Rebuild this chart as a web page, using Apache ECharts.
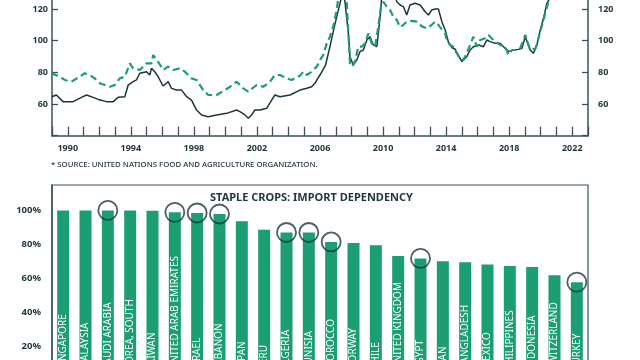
<!DOCTYPE html>
<html><head><meta charset="utf-8">
<script src="https://cdn.jsdelivr.net/npm/echarts@6/dist/echarts.min.js"></script>
<style>html,body{margin:0;padding:0;background:#fff}#c{width:640px;height:360px}</style>
</head><body><div id="c"></div>
<script>
// FAO food price index, nominal (solid) and real (dashed)
const nominalIndex = [
[1988.98,64.6],[1989.28,65.7],[1989.70,61.5],[1990.34,61.5],[1990.87,64.2],[1991.19,65.7],[1991.61,64.2],[1991.93,62.9],
[1992.46,61.5],[1992.88,61.5],[1993.20,64.2],[1993.62,64.6],[1993.83,72.0],[1994.15,74.1],[1994.36,75.2],[1994.57,79.4],
[1995.00,80.4],[1995.20,78.3],[1995.31,82.5],[1995.52,80.4],[1995.73,77.3],[1995.95,73.1],[1996.05,71.4],[1996.37,74.1],
[1996.58,69.9],[1996.90,68.8],[1997.22,68.8],[1997.54,64.6],[1997.85,62.5],[1998.17,56.2],[1998.49,53.1],[1998.91,52.0],
[1999.44,53.1],[2000.08,54.1],[2000.71,56.2],[2000.92,55.2],[2001.24,53.1],[2001.45,51.0],[2001.66,53.1],[2001.87,56.2],
[2002.19,56.2],[2002.62,57.3],[2002.93,62.5],[2003.14,65.7],[2003.46,64.6],[2004.10,65.7],[2004.73,68.8],[2005.16,69.9],
[2005.47,70.9],[2005.68,73.1],[2005.85,76.0],[2006.00,78.3],[2006.35,84.5],[2006.63,96.2],[2006.84,105.7],[2007.06,115.2],
[2007.27,123.6],[2007.45,132.0],[2007.59,124.0],[2007.80,104.6],[2007.90,89.9],[2008.11,84.6],[2008.33,87.8],[2008.54,93.1],
[2008.75,94.1],[2008.97,100.4],[2009.17,102.5],[2009.38,97.3],[2009.60,96.2],[2009.70,104.6],[2009.81,115.2],[2009.91,127.0],
[2010.30,133.0],[2010.70,131.0],[2010.87,124.6],[2011.08,122.5],[2011.29,121.5],[2011.50,116.2],[2011.71,122.5],[2012.03,123.6],
[2012.35,122.5],[2012.67,118.3],[2012.88,116.2],[2013.09,119.4],[2013.30,120.0],[2013.51,120.0],[2013.73,112.0],[2013.94,106.7],
[2014.15,99.0],[2014.36,95.7],[2014.57,94.6],[2014.78,90.5],[2015.00,86.8],[2015.10,85.7],[2015.31,89.9],[2015.52,94.1],
[2015.73,96.2],[2016.05,97.3],[2016.37,96.2],[2016.58,100.4],[2016.79,99.4],[2017.11,98.3],[2017.43,98.3],[2017.64,96.2],
[2017.96,93.1],[2018.27,94.1],[2018.59,94.5],[2018.81,95.2],[2019.02,102.5],[2019.13,103.6],[2019.33,94.1],[2019.54,92.0],
[2019.76,97.3],[2019.97,106.7],[2020.18,114.1],[2020.39,123.6],[2020.60,127.0],[2021.00,132.0],[2021.50,140.0],[2022.00,150.0],
[2022.25,158.0],[2022.50,145.0],[2022.90,133.0]
];
const realIndex = [
[1988.96,79.4],[1989.49,77.3],[1989.81,75.2],[1990.23,74.1],[1990.76,77.3],[1991.08,79.4],[1991.40,78.3],[1991.71,76.2],
[1992.03,73.1],[1992.67,70.9],[1992.98,72.0],[1993.30,76.2],[1993.62,77.3],[1993.94,85.7],[1994.15,82.5],[1994.57,81.5],
[1995.00,85.7],[1995.31,85.7],[1995.42,90.9],[1995.73,86.7],[1996.05,81.5],[1996.37,83.6],[1996.69,81.5],[1997.11,82.5],
[1997.43,80.4],[1997.85,76.2],[1998.17,75.2],[1998.59,68.8],[1998.91,65.7],[1999.44,65.7],[1999.97,68.8],[2000.29,70.9],
[2000.71,74.1],[2001.13,69.9],[2001.45,67.8],[2001.98,72.0],[2002.40,70.9],[2002.83,74.1],[2003.14,78.3],[2003.46,78.3],
[2003.89,76.2],[2004.20,75.2],[2004.73,77.8],[2004.94,80.4],[2005.16,78.3],[2005.47,80.4],[2005.79,83.6],[2006.00,87.8],
[2006.21,91.0],[2006.43,98.3],[2006.63,102.5],[2006.84,108.8],[2007.06,119.4],[2007.16,127.0],[2007.45,136.0],[2007.69,125.0],
[2007.90,85.7],[2008.01,83.6],[2008.22,86.8],[2008.43,96.2],[2008.65,96.2],[2008.86,98.3],[2009.07,104.6],[2009.28,98.3],
[2009.49,96.2],[2009.70,108.8],[2009.87,121.5],[2010.02,124.5],[2010.23,121.5],[2010.44,119.4],[2010.65,115.2],[2010.87,113.0],
[2011.08,108.5],[2011.29,110.0],[2011.50,112.0],[2011.82,112.5],[2012.14,112.0],[2012.46,109.0],[2012.78,107.8],[2013.09,110.0],
[2013.30,112.0],[2013.51,110.0],[2013.73,107.0],[2013.94,104.6],[2014.04,100.4],[2014.25,97.3],[2014.46,96.2],[2014.68,92.0],
[2014.89,88.8],[2015.10,87.8],[2015.31,92.0],[2015.52,97.3],[2015.73,102.5],[2015.95,96.2],[2016.16,100.4],[2016.48,101.5],
[2016.69,103.6],[2017.00,100.4],[2017.43,97.3],[2017.75,96.2],[2017.96,91.0],[2018.17,94.1],[2018.49,94.1],[2018.70,95.2],
[2019.02,103.6],[2019.33,94.1],[2019.68,95.2],[2019.97,105.7],[2020.29,117.3],[2020.56,127.0],[2021.00,132.0],[2021.50,138.0],
[2022.00,146.0],[2022.25,155.0],[2022.50,142.0],[2022.90,130.0]
];
const yearLabelStep = 4;
const indexTicks = [60, 80, 100, 120];

const countries = ['SINGAPORE','MALAYSIA','SAUDI ARABIA','KOREA, SOUTH','TAIWAN','UNITED ARAB EMIRATES','ISRAEL','LEBANON',
 'JAPAN','PERU','ALGERIA','TUNISIA','MOROCCO','NORWAY','CHILE','UNITED KINGDOM','EGYPT','IRAN','BANGLADESH','MEXICO',
 'PHILIPPINES','INDONESIA','SWITZERLAND','TURKEY'];
const importDependency = [100,100,100,100,99.8,98.9,98.5,97.9,93.6,88.6,87.0,87.0,81.4,80.8,79.4,73.1,71.7,70.1,69.5,68.1,67.3,66.6,61.8,57.7];
const circledCountries = ['SAUDI ARABIA','UNITED ARAB EMIRATES','ISRAEL','LEBANON','ALGERIA','TUNISIA','MOROCCO','EGYPT','TURKEY'];

const DARK = '#1e363b';
const AXIS = '#3a5257';
const GREEN = '#1c9e75';
const FONT = 'Noto Sans';

const chart = echarts.init(document.getElementById('c'), null, {renderer: 'canvas'});
chart.setOption({
  animation: false,
  backgroundColor: '#fff',
  textStyle: {fontFamily: FONT},
  title: [
    {text: 'STAPLE CROPS: IMPORT DEPENDENCY', left: 210, top: 192, padding: 0,
     textStyle: {fontSize: 11, fontWeight: 'bold', color: DARK, fontFamily: FONT}},
    {text: '* SOURCE: UNITED NATIONS FOOD AND AGRICULTURE ORGANIZATION.', left: 51, top: 160.5, padding: 0,
     textStyle: {fontSize: 7.8, fontWeight: 500, color: DARK, fontFamily: FONT}}
  ],
  grid: [
    {left: 52, right: 52, top: -22.7, bottom: 224.3, outerBoundsMode: 'none', containLabel: false},
    {left: 52, right: 52, top: 185, bottom: -20, outerBoundsMode: 'none', containLabel: false,
     show: true, borderColor: AXIS, borderWidth: 1.2, backgroundColor: 'transparent'}
  ],
  xAxis: [
    {type: 'value', gridIndex: 0, min: 1989, max: 2023, interval: 1,
     axisLine: {show: true, lineStyle: {color: AXIS, width: 1.5}},
     axisTick: {show: true, inside: true, length: 9, lineStyle: {color: AXIS, width: 1.3}},
     axisLabel: {margin: 8, fontSize: 9, fontWeight: 'bold', color: DARK, fontFamily: FONT,
       formatter: v => ((v - 1990) % yearLabelStep === 0 && v >= 1990 && v <= 2022) ? String(v) : ''},
     splitLine: {show: false}},
    {type: 'category', gridIndex: 1, data: countries,
     axisLine: {show: false}, axisTick: {show: false}, axisLabel: {show: false}}
  ],
  yAxis: [
    {type: 'value', gridIndex: 0, min: 40, max: 140, interval: 20, position: 'left',
     axisLine: {show: true, lineStyle: {color: AXIS, width: 1.5}},
     axisTick: {show: true, inside: true, length: 6, lineStyle: {color: AXIS, width: 1.3}},
     axisLabel: {margin: 4, fontSize: 9, fontWeight: 'bold', color: DARK, fontFamily: FONT,
       formatter: v => indexTicks.includes(v) ? String(v) : ''},
     splitLine: {show: false}},
    {type: 'value', gridIndex: 0, min: 40, max: 140, interval: 20, position: 'right',
     axisLine: {show: true, lineStyle: {color: AXIS, width: 1.5}},
     axisTick: {show: true, inside: true, length: 6, lineStyle: {color: AXIS, width: 1.3}},
     axisLabel: {margin: 10, fontSize: 9, fontWeight: 'bold', color: DARK, fontFamily: FONT,
       formatter: v => indexTicks.includes(v) ? String(v) : ''},
     splitLine: {show: false}},
    {type: 'value', gridIndex: 1, min: 0, max: 115, interval: 20,
     axisLine: {show: true, lineStyle: {color: AXIS, width: 1.5}},
     axisTick: {show: false},
     axisLabel: {margin: 11, fontSize: 9.5, fontWeight: 'bold', color: DARK, fontFamily: FONT,
       showMaxLabel: false, formatter: '{value}%'},
     splitLine: {show: false}}
  ],
  series: [
    {type: 'line', name: 'Nominal', xAxisIndex: 0, yAxisIndex: 0, data: nominalIndex, showSymbol: false,
     lineStyle: {color: DARK, width: 1.5}, z: 3},
    {type: 'line', name: 'Real', xAxisIndex: 0, yAxisIndex: 0, data: realIndex, showSymbol: false,
     lineStyle: {color: GREEN, width: 2.2, type: [7, 4]}, z: 4},
    {type: 'bar', xAxisIndex: 1, yAxisIndex: 2, data: importDependency, barWidth: 12,
     itemStyle: {color: GREEN},
     label: {show: true, position: 'insideBottom', distance: 10, rotate: 90, align: 'left', verticalAlign: 'middle',
       color: '#fff', fontSize: 10, fontFamily: FONT, formatter: p => countries[p.dataIndex]}},
    {type: 'scatter', xAxisIndex: 1, yAxisIndex: 2, symbol: 'circle', symbolSize: 19, z: 5,
     data: countries.map((c, i) => circledCountries.includes(c) ? importDependency[i] : null),
     itemStyle: {color: 'rgba(0,0,0,0)', borderColor: DARK, borderWidth: 1.8}}
  ]
});
</script></body></html>
